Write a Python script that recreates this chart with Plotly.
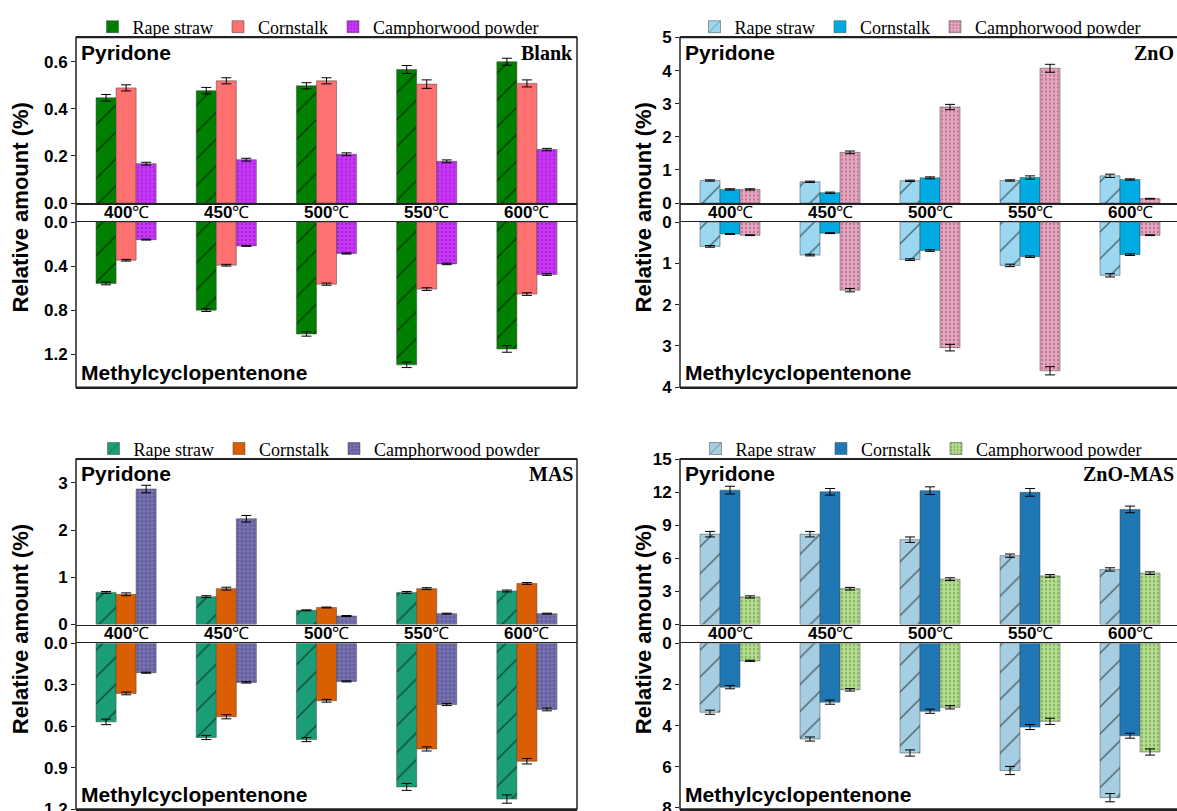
import plotly.graph_objects as go

W, H = 1177, 811

# ---------------- data ----------------
temps = ["400", "450", "500", "550", "600"]
categories = [t + "℃" for t in temps]
tick_text = [f"<b>{t}</b>℃" for t in temps]
series_names = ["Rape straw", "Cornstalk", "Camphorwood powder"]

# Blank
blank_pyr_rape = [0.447, 0.477, 0.498, 0.567, 0.600]
blank_pyr_corn = [0.489, 0.519, 0.519, 0.505, 0.508]
blank_pyr_camph = [0.167, 0.184, 0.207, 0.177, 0.227]
blank_pyr_rape_err = [0.014, 0.014, 0.013, 0.017, 0.015]
blank_pyr_corn_err = [0.013, 0.013, 0.013, 0.018, 0.015]
blank_pyr_camph_err = [0.006, 0.006, 0.006, 0.006, 0.005]
blank_mcp_rape = [0.558, 0.800, 1.016, 1.296, 1.152]
blank_mcp_corn = [0.347, 0.392, 0.564, 0.609, 0.654]
blank_mcp_camph = [0.160, 0.217, 0.286, 0.380, 0.476]
blank_mcp_rape_err = [0.012, 0.012, 0.020, 0.025, 0.030]
blank_mcp_corn_err = [0.008, 0.008, 0.010, 0.012, 0.012]
blank_mcp_camph_err = [0.004, 0.004, 0.005, 0.007, 0.008]

# ZnO
zno_pyr_rape = [0.68, 0.64, 0.67, 0.68, 0.82]
zno_pyr_corn = [0.41, 0.31, 0.76, 0.77, 0.71]
zno_pyr_camph = [0.41, 1.53, 2.90, 4.07, 0.13]
zno_pyr_rape_err = [0.02, 0.02, 0.02, 0.02, 0.05]
zno_pyr_corn_err = [0.02, 0.02, 0.03, 0.05, 0.02]
zno_pyr_camph_err = [0.02, 0.04, 0.08, 0.12, 0.01]
zno_mcp_rape = [0.59, 0.80, 0.91, 1.05, 1.29]
zno_mcp_corn = [0.29, 0.27, 0.69, 0.84, 0.79]
zno_mcp_camph = [0.32, 1.65, 3.04, 3.60, 0.32]
zno_mcp_rape_err = [0.02, 0.02, 0.02, 0.03, 0.04]
zno_mcp_corn_err = [0.01, 0.01, 0.02, 0.02, 0.02]
zno_mcp_camph_err = [0.01, 0.04, 0.08, 0.10, 0.01]

# MAS
mas_pyr_rape = [0.68, 0.59, 0.30, 0.68, 0.71]
mas_pyr_corn = [0.64, 0.76, 0.36, 0.76, 0.87]
mas_pyr_camph = [2.87, 2.24, 0.18, 0.23, 0.23]
mas_pyr_rape_err = [0.02, 0.02, 0.01, 0.02, 0.02]
mas_pyr_corn_err = [0.03, 0.03, 0.01, 0.02, 0.02]
mas_pyr_camph_err = [0.08, 0.07, 0.01, 0.01, 0.01]
mas_mcp_rape = [0.569, 0.682, 0.697, 1.040, 1.128]
mas_mcp_corn = [0.363, 0.532, 0.416, 0.765, 0.854]
mas_mcp_camph = [0.213, 0.283, 0.276, 0.443, 0.479]
mas_mcp_rape_err = [0.020, 0.015, 0.015, 0.025, 0.030]
mas_mcp_corn_err = [0.010, 0.015, 0.010, 0.015, 0.020]
mas_mcp_camph_err = [0.004, 0.005, 0.004, 0.008, 0.010]

# ZnO-MAS
znomas_pyr_rape = [8.20, 8.20, 7.70, 6.25, 5.00]
znomas_pyr_corn = [12.20, 12.05, 12.15, 12.00, 10.45]
znomas_pyr_camph = [2.50, 3.25, 4.12, 4.41, 4.66]
znomas_pyr_rape_err = [0.25, 0.25, 0.25, 0.15, 0.15]
znomas_pyr_corn_err = [0.35, 0.30, 0.35, 0.35, 0.30]
znomas_pyr_camph_err = [0.10, 0.12, 0.12, 0.12, 0.12]
znomas_mcp_rape = [3.35, 4.65, 5.33, 6.18, 7.50]
znomas_mcp_corn = [2.13, 2.86, 3.30, 4.07, 4.49]
znomas_mcp_camph = [0.85, 2.26, 3.11, 3.79, 5.28]
znomas_mcp_rape_err = [0.10, 0.10, 0.15, 0.20, 0.20]
znomas_mcp_corn_err = [0.08, 0.10, 0.10, 0.12, 0.12]
znomas_mcp_camph_err = [0.03, 0.06, 0.08, 0.15, 0.15]

panel_labels = ["Blank", "ZnO", "MAS", "ZnO-MAS"]
top_label = "Pyridone"
bottom_label = "Methylcyclopentenone"
y_title = "Relative amount (%)"

# ---------------- styling / layout config ----------------
SANS = "Liberation Sans, Arial, sans-serif"
SERIF = "Liberation Serif, Times New Roman, serif"

panels = [
    dict(colors=["#008000", "#FF7070", "#CC33FF"],
         pyr=[blank_pyr_rape, blank_pyr_corn, blank_pyr_camph],
         pyr_err=[blank_pyr_rape_err, blank_pyr_corn_err, blank_pyr_camph_err],
         mcp=[blank_mcp_rape, blank_mcp_corn, blank_mcp_camph],
         mcp_err=[blank_mcp_rape_err, blank_mcp_corn_err, blank_mcp_camph_err],
         x0=76, x1=577, top=37.5, zero=203, strip=222, bottom=387.3,
         yr_top=[0, 0.703], dt_top=0.2, fmt_top=".1f",
         yr_bot=[1.5, 0], dt_bot=0.4, fmt_bot=".1f", ytitle_dx=56, leg_cx=318),
    dict(colors=["#9BD7F0", "#00AAE2", "#E9A3C0"],
         pyr=[zno_pyr_rape, zno_pyr_corn, zno_pyr_camph],
         pyr_err=[zno_pyr_rape_err, zno_pyr_corn_err, zno_pyr_camph_err],
         mcp=[zno_mcp_rape, zno_mcp_corn, zno_mcp_camph],
         mcp_err=[zno_mcp_rape_err, zno_mcp_corn_err, zno_mcp_camph_err],
         x0=680, x1=1180, top=37.5, zero=203, strip=222, bottom=387.3,
         yr_top=[0, 5], dt_top=1, fmt_top="d",
         yr_bot=[4, 0], dt_bot=1, fmt_bot="d", ytitle_dx=37, leg_cx=920),
    dict(colors=["#1B9E77", "#D95F02", "#7570B3"],
         pyr=[mas_pyr_rape, mas_pyr_corn, mas_pyr_camph],
         pyr_err=[mas_pyr_rape_err, mas_pyr_corn_err, mas_pyr_camph_err],
         mcp=[mas_mcp_rape, mas_mcp_corn, mas_mcp_camph],
         mcp_err=[mas_mcp_rape_err, mas_mcp_corn_err, mas_mcp_camph_err],
         x0=76, x1=577, top=459.3, zero=624.5, strip=643.3, bottom=809,
         yr_top=[0, 3.5], dt_top=1, fmt_top="d",
         yr_bot=[1.2, 0], dt_bot=0.3, fmt_bot=".1f", ytitle_dx=56, leg_cx=319),
    dict(colors=["#A6CEE3", "#1F78B4", "#B2DF8A"],
         pyr=[znomas_pyr_rape, znomas_pyr_corn, znomas_pyr_camph],
         pyr_err=[znomas_pyr_rape_err, znomas_pyr_corn_err, znomas_pyr_camph_err],
         mcp=[znomas_mcp_rape, znomas_mcp_corn, znomas_mcp_camph],
         mcp_err=[znomas_mcp_rape_err, znomas_mcp_corn_err, znomas_mcp_camph_err],
         x0=680, x1=1180, top=459.3, zero=624.5, strip=643.3, bottom=809,
         yr_top=[0, 15], dt_top=3, fmt_top="d",
         yr_bot=[8.05, 0], dt_bot=2, fmt_bot="d", ytitle_dx=37, leg_cx=921),
]


def px(x):
    return x / W


def py(y):
    return 1 - y / H


def pattern(i):
    if i == 0:
        return dict(shape="/", fgcolor="#000000", size=19, solidity=0.08, fillmode="overlay")
    if i == 2:
        return dict(shape=".", fgcolor="#222222", fgopacity=0.3, size=4, solidity=0.25, fillmode="overlay")
    return dict(shape="")


fig = go.Figure()
layout = dict(
    width=W, height=H, margin=dict(l=0, r=0, t=0, b=0, autoexpand=False),
    plot_bgcolor="white", paper_bgcolor="white",
    barmode="group", bargap=0.4, bargroupgap=0,
    showlegend=True, annotations=[], shapes=[],
)

axis_font = dict(family=SANS, size=17, color="black", weight="bold")
line_col = "#222222"

for p_i, p in enumerate(panels):
    top_n = 2 * p_i + 1
    bot_n = 2 * p_i + 2
    legend_name = "legend" if p_i == 0 else f"legend{p_i + 1}"
    xd = [px(p["x0"]), min(1.0, px(p["x1"]))]
    xr = [-0.5, -0.5 + 5 * (min(W, p["x1"]) - p["x0"]) / (p["x1"] - p["x0"])]

    for s_i in range(3):
        common = dict(
            marker=dict(color=p["colors"][s_i], pattern=pattern(s_i),
                        line=dict(color="rgba(70,70,70,0.5)", width=1)),
            name=series_names[s_i],
        )
        fig.add_trace(go.Bar(
            x=categories, y=p["pyr"][s_i],
            error_y=dict(type="data", array=p["pyr_err"][s_i], color="black", thickness=1, width=5),
            xaxis=f"x{top_n}", yaxis=f"y{top_n}", legend=legend_name, showlegend=True, **common))
        fig.add_trace(go.Bar(
            x=categories, y=p["mcp"][s_i],
            error_y=dict(type="data", array=p["mcp_err"][s_i], color="black", thickness=1, width=5),
            xaxis=f"x{bot_n}", yaxis=f"y{bot_n}", showlegend=False, **common))

    sfx_t = "" if top_n == 1 else str(top_n)
    sfx_b = str(bot_n)
    layout[f"xaxis{sfx_t}"] = dict(
        domain=xd, anchor=f"y{top_n}", type="category", range=xr, automargin=False,
        showline=True, linecolor=line_col, linewidth=1.5, mirror=True,
        ticks="", showticklabels=False, showgrid=False, zeroline=False,
    )
    layout[f"yaxis{sfx_t}"] = dict(
        domain=[py(p["zero"]), py(p["top"])], anchor=f"x{top_n}", range=p["yr_top"],
        dtick=p["dt_top"], tick0=0, tickformat=p["fmt_top"], ticks="outside", ticklen=4,
        tickcolor=line_col, showline=False, showgrid=False, zeroline=False,
        tickfont=axis_font, automargin=False, ticklabeloverflow="allow",
    )
    layout[f"xaxis{sfx_b}"] = dict(
        domain=xd, anchor=f"y{bot_n}", type="category", range=xr, side="top", automargin=False,
        showline=True, linecolor=line_col, linewidth=1.5, mirror=True,
        ticks="", showticklabels=False, showgrid=False, zeroline=False,
    )
    layout[f"yaxis{sfx_b}"] = dict(
        domain=[py(p["bottom"]), py(p["strip"])], anchor=f"x{bot_n}", range=p["yr_bot"],
        dtick=p["dt_bot"], tick0=0, tickformat=p["fmt_bot"], ticks="outside", ticklen=4,
        tickcolor=line_col, showline=False, showgrid=False, zeroline=False,
        tickfont=axis_font, automargin=False, ticklabeloverflow="allow",
    )

    # panel frame
    layout["shapes"].append(dict(
        type="rect", xref="paper", yref="paper",
        x0=px(p["x0"]), x1=px(p["x1"]), y0=py(p["bottom"]), y1=py(p["top"]),
        line=dict(color=line_col, width=1.5), fillcolor="rgba(0,0,0,0)", layer="above"))

    # legend
    layout[legend_name] = dict(
        orientation="h", x=px(p["leg_cx"]), xanchor="center",
        y=py(p["top"] - 10.5), yanchor="middle",
        font=dict(family=SERIF, size=18, color="black"),
        bgcolor="rgba(0,0,0,0)", itemwidth=30, tracegroupgap=0,
        traceorder="normal",
    )

    # temperature labels in the strip between the two halves
    strip_mid = (p["zero"] + p["strip"]) / 2
    for cat, txt in zip(categories, tick_text):
        layout["annotations"].append(dict(
            text=txt, xref=f"x{top_n}", yref="paper", x=cat, y=py(strip_mid),
            xanchor="center", yanchor="middle", showarrow=False,
            font=dict(family=SANS, size=17, color="black")))

    # other annotations
    layout["annotations"] += [
        dict(text=f"<b>{top_label}</b>", xref="paper", yref="paper",
             x=px(p["x0"] + 3), y=py(p["top"] + 1), xanchor="left", yanchor="top",
             showarrow=False, font=dict(family=SANS, size=21, color="black")),
        dict(text=f"<b>{bottom_label}</b>", xref="paper", yref="paper",
             x=px(p["x0"] + 3), y=py(p["bottom"] - 1), xanchor="left", yanchor="bottom",
             showarrow=False, font=dict(family=SANS, size=21, color="black")),
        dict(text=f"<b>{panel_labels[p_i]}</b>", xref="paper", yref="paper",
             x=px(min(p["x1"] - 2, 1176)), y=py(p["top"] + 15), xanchor="right", yanchor="middle",
             showarrow=False, font=dict(family=SERIF, size=20, color="black")),
        dict(text=f"<b>{y_title}</b>", xref="paper", yref="paper",
             x=px(p["x0"] - p["ytitle_dx"]), y=py((p["top"] + p["bottom"]) / 2 - 5),
             xanchor="center", yanchor="middle", textangle=-90,
             showarrow=False, font=dict(family=SANS, size=22, color="black")),
    ]

fig.update_layout(**layout)
fig.write_html(
    "out.html",
    config={"displayModeBar": False, "staticPlot": True},
    post_script="document.body.style.margin='0';document.body.style.overflow='hidden';",
)
